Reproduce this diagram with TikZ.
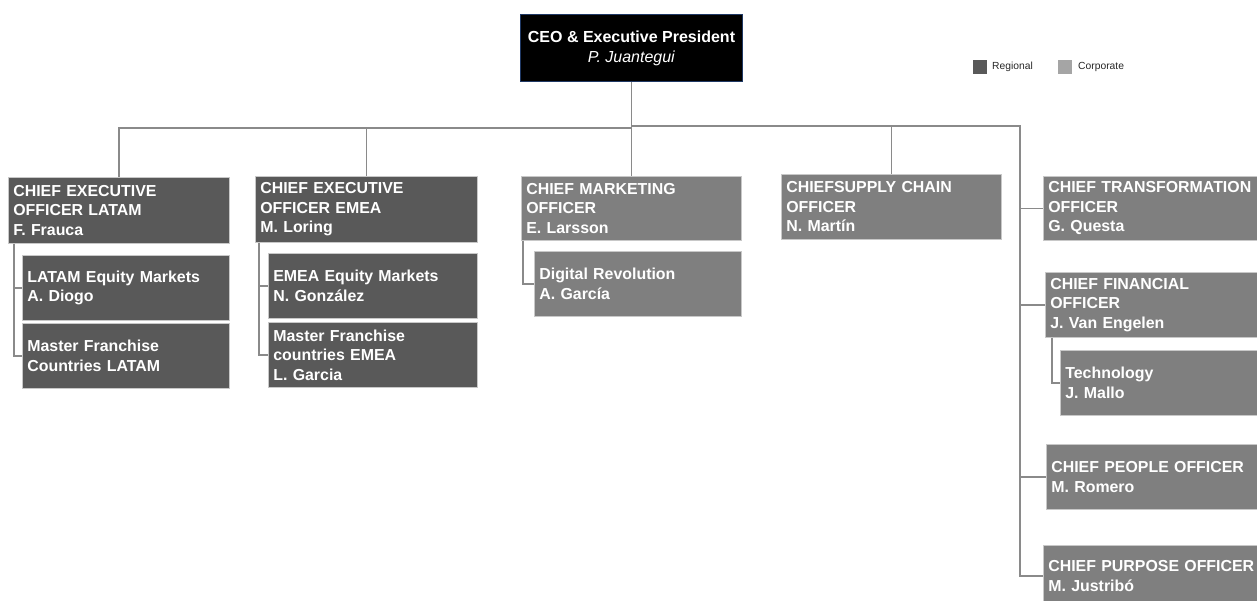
\documentclass[tikz,border=0pt]{standalone}
\usepackage{fontspec}
\setmainfont{Liberation Sans}
\definecolor{reg}{HTML}{595959}
\definecolor{corp}{HTML}{7F7F7F}
\definecolor{corplegend}{HTML}{A5A5A5}
\definecolor{conncol}{HTML}{8A8A8A}
\definecolor{edgecol}{HTML}{C8C8C8}
\definecolor{ceoedge}{HTML}{1F3864}
\begin{document}
\begin{tikzpicture}[x=1pt,y=-1pt,
  box/.style={draw=edgecol, line width=0.7pt, anchor=north west, inner xsep=5pt, inner ysep=0pt,
    align=left, text=white, font=\bfseries\fontsize{15.9}{19.5}\selectfont},
  regbox/.style={box, fill=reg},
  corpbox/.style={box, fill=corp},
  conn/.style={draw=conncol, line width=1.4pt},
  legsq/.style={minimum width=14pt, minimum height=14pt, inner sep=0pt, anchor=north west},
  legtext/.style={anchor=west, inner sep=0pt, font=\fontsize{10.3}{12}\selectfont, text=black!85}
]
\useasboundingbox (0,0) rectangle (1257,601);

% CEO
\node[draw=ceoedge, line width=1pt, fill=black, anchor=north west, minimum width=222pt, minimum height=67pt,
  align=center, text=white, inner sep=0pt, font=\fontsize{16}{20}\selectfont] (ceo) at (520,14)
  {\textbf{CEO \& Executive President}\\\textit{P. Juantegui}};

% Legend
\node[legsq, fill=reg] (legreg) at (973,60) {};
\node[legtext] (legregt) at (992,67) {Regional};
\node[legsq, fill=corplegend] (legcorp) at (1058,60) {};
\node[legtext] (legcorpt) at (1078,67) {Corporate};

% Regional column LATAM
\node[regbox, minimum width=221pt, minimum height=66pt, text width=211pt] (latam) at (8,177)
  {CHIEF EXECUTIVE\\OFFICER LATAM\\F. Frauca};
\node[regbox, minimum width=207pt, minimum height=65pt, text width=197pt] (latameq) at (22,255)
  {LATAM Equity Markets\\A. Diogo};
\node[regbox, minimum width=207pt, minimum height=65pt, text width=197pt] (latammf) at (22,323)
  {Master Franchise\\Countries LATAM};

% Regional column EMEA
\node[regbox, minimum width=222pt, minimum height=66pt, text width=212pt] (emea) at (255,176)
  {CHIEF EXECUTIVE\\OFFICER EMEA\\M. Loring};
\node[regbox, minimum width=209pt, minimum height=65pt, text width=199pt] (emeaeq) at (268,253)
  {EMEA Equity Markets\\N. González};
\node[regbox, minimum width=209pt, minimum height=65pt, text width=199pt] (emeamf) at (268,322)
  {Master Franchise\\countries EMEA\\L. Garcia};

% Marketing
\node[corpbox, minimum width=220pt, minimum height=64pt, text width=210pt] (cmo) at (521,176)
  {CHIEF MARKETING\\OFFICER\\E. Larsson};
\node[corpbox, minimum width=207pt, minimum height=65pt, text width=197pt] (digital) at (534,251)
  {Digital Revolution\\A. García};

% Supply chain
\node[corpbox, minimum width=220pt, minimum height=65pt, text width=210pt] (supply) at (781,174)
  {CHIEFSUPPLY CHAIN\\OFFICER\\N. Martín};

% Right column
\node[corpbox, minimum width=219pt, minimum height=64pt, text width=209pt] (trans) at (1043,176)
  {CHIEF TRANSFORMATION\\OFFICER\\G. Questa};
\node[corpbox, minimum width=217pt, minimum height=65pt, text width=207pt] (cfo) at (1045,272)
  {CHIEF FINANCIAL\\OFFICER\\J. Van Engelen};
\node[corpbox, minimum width=202pt, minimum height=65pt, text width=192pt] (tech) at (1060,350)
  {Technology\\J. Mallo};
\node[corpbox, minimum width=216pt, minimum height=65pt, text width=206pt] (people) at (1046,444)
  {CHIEF PEOPLE OFFICER\\M. Romero};
\node[corpbox, minimum width=219pt, minimum height=61pt, text width=209pt] (purpose) at (1043,545)
  {CHIEF PURPOSE OFFICER\\M. Justribó};

% Connectors
\coordinate (lbus) at (631,128);
\coordinate (rbus) at (1020,126);
\draw[conn] (ceo.south) -- (ceo.south |- lbus);
\draw[conn] (lbus) -| (latam.north);
\draw[conn] (lbus) -| (emea.north);
\draw[conn] (lbus) -- (cmo.north |- lbus) -- (cmo.north);
\draw[conn] (ceo.south |- rbus) -- (rbus) -- (rbus |- purpose.west) -- (purpose.west);
\draw[conn] (ceo.south |- rbus) -| (supply.north);
\draw[conn] (rbus |- trans.west) -- (trans.west);
\draw[conn] (rbus |- cfo.west) -- (cfo.west);
\draw[conn] (rbus |- people.west) -- (people.west);

\coordinate (latamv) at ([xshift=6pt]latam.south west);
\draw[conn] (latamv) -- (latamv |- latammf.west) -- (latammf.west);
\draw[conn] (latamv |- latameq.west) -- (latameq.west);

\coordinate (emeav) at ([xshift=4pt]emea.south west);
\draw[conn] (emeav) -- (emeav |- emeamf.west) -- (emeamf.west);
\draw[conn] (emeav |- emeaeq.west) -- (emeaeq.west);

\coordinate (cmov) at ([xshift=2pt]cmo.south west);
\draw[conn] (cmov) -- (cmov |- digital.west) -- (digital.west);

\coordinate (cfov) at ([xshift=7pt]cfo.south west);
\draw[conn] (cfov) -- (cfov |- tech.west) -- (tech.west);
\end{tikzpicture}
\end{document}
